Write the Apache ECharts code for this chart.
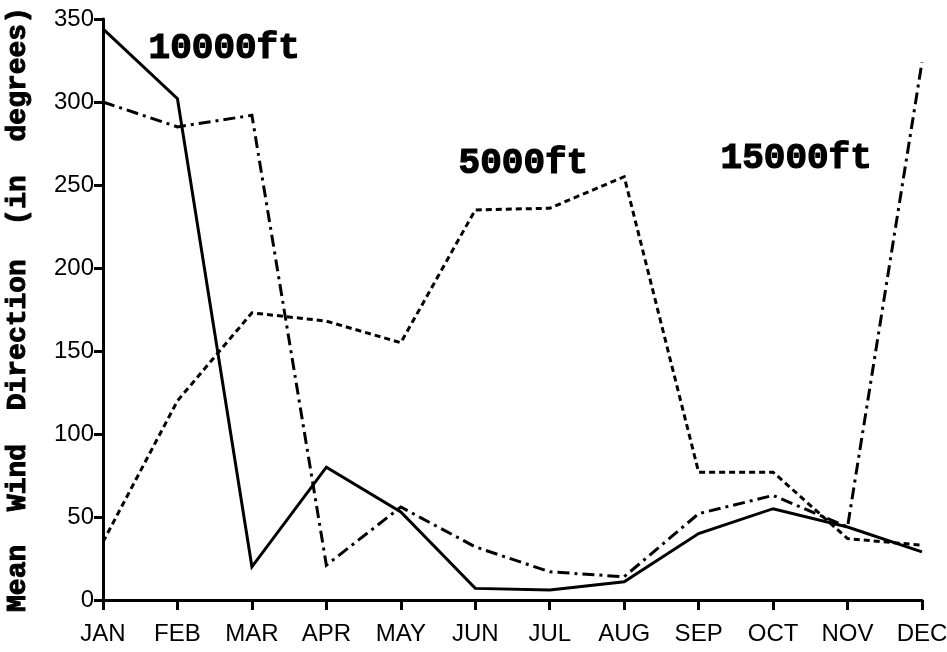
<!DOCTYPE html>
<html>
<head>
<meta charset="utf-8">
<script src="https://cdn.jsdelivr.net/npm/echarts@6/dist/echarts.min.js"></script>
<style>
  html, body { margin: 0; padding: 0; background: #fff; }
  #chart { width: 947px; height: 652px; }
</style>
</head>
<body>
<div id="chart"></div>
<script>
// Monthly mean wind direction at three altitudes
const months = ['JAN', 'FEB', 'MAR', 'APR', 'MAY', 'JUN', 'JUL', 'AUG', 'SEP', 'OCT', 'NOV', 'DEC'];
const ft10000 = [344, 302, 20, 80, 53, 7, 6, 11, 40, 55, 44, 29];
const ft5000  = [35, 120, 173, 168, 155, 235, 236, 255, 77, 77, 37, 33];
const ft15000 = [300, 285, 292, 21, 56, 32, 17, 14, 52, 63, 44, 324];
const yTicks = { min: 0, max: 350, step: 50 };

const labelFont = '"Liberation Mono", "DejaVu Sans Mono", monospace';
const tickFont = '"Liberation Sans", Arial, sans-serif';

const chart = echarts.init(document.getElementById('chart'), null, { renderer: 'canvas' });

function lineSeries(name, data, type) {
  return {
    name: name,
    type: 'line',
    data: data,
    symbol: 'none',
    animation: false,
    lineStyle: { color: '#000', width: 3, type: type, cap: 'butt', join: 'miter' },
    z: 3
  };
}

function altitudeLabel(text, left, top) {
  return {
    type: 'text', left: left, top: top,
    style: {
      text: text, fill: '#000', font: 'bold 36px ' + labelFont,
      stroke: '#000', lineWidth: 1.2
    }
  };
}

chart.setOption({
  backgroundColor: '#fff',
  animation: false,
  grid: { left: 103, right: 25, top: 19, bottom: 52, containLabel: false, outerBoundsMode: 'none' },
  xAxis: {
    type: 'category',
    data: months,
    boundaryGap: false,
    axisLine: { lineStyle: { color: '#000', width: 3 } },
    axisTick: { show: true, alignWithLabel: true, length: 10, lineStyle: { color: '#000', width: 3 } },
    axisLabel: { color: '#000', fontFamily: tickFont, fontSize: 24, margin: 22, hideOverlap: false },
    splitLine: { show: false }
  },
  yAxis: {
    type: 'value',
    min: yTicks.min,
    max: yTicks.max,
    interval: yTicks.step,
    name: 'Mean  Wind  Direction  (in  degrees)',
    nameLocation: 'middle',
    nameGap: 71,
    nameRotate: 90,
    nameTextStyle: {
      color: '#000', fontFamily: labelFont, fontWeight: 'bold', fontSize: 28,
      textBorderColor: '#000', textBorderWidth: 1
    },
    axisLine: { show: true, lineStyle: { color: '#000', width: 3 } },
    axisTick: { show: true, length: 9, lineStyle: { color: '#000', width: 3 } },
    axisLabel: { color: '#000', fontFamily: tickFont, fontSize: 24, margin: 9 },
    splitLine: { show: false }
  },
  series: [
    lineSeries('10000ft', ft10000, 'solid'),
    lineSeries('5000ft', ft5000, [6, 4]),
    lineSeries('15000ft', ft15000, [12, 5, 3, 5])
  ],
  graphic: [
    altitudeLabel('10000ft', 148, 30),
    altitudeLabel('5000ft', 458, 145),
    altitudeLabel('15000ft', 720, 140)
  ]
});
</script>
</body>
</html>
